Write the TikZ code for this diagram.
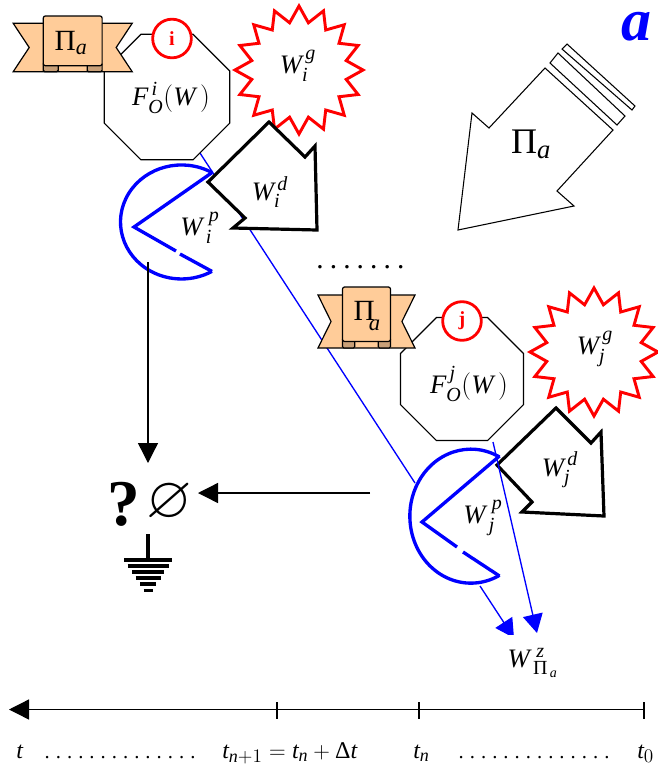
\documentclass[tikz,border=0pt]{standalone}
\usepackage{amsmath,amssymb}
\usepackage{fontspec}
\setmainfont{Liberation Serif}
\usetikzlibrary{positioning, shapes.geometric, arrows.meta}
\definecolor{peach}{HTML}{FFCC99}
\definecolor{peachdark}{HTML}{C9A078}
\DeclareMathSizes{18}{18}{13.5}{10}
\DeclareMathSizes{20}{20}{15}{10.5}
\DeclareMathSizes{22}{22}{16.5}{12}
\DeclareMathSizes{27}{27}{20}{14}
\newcommand\wlab[2]{$\textit{W}_{\textit{#1}}^{\,\textit{#2}}$}
\newcommand\pwlab[2]{$\textit{W}_{\,\textit{#1}}^{\,\,\textit{#2}}$}
\newcommand\folab[1]{$\textit{F}_{\textit{O}}^{\,\textit{#1}}(\textit{W}\,)$}
\newcommand\pilab{$\text{Π}_{\textit{a}}$}
\newcommand\dotrow[2]{\foreach \k in {1,...,#1}{\makebox[#2]{.}}}
\begin{document}
\begin{tikzpicture}[
      x=0.75pt, y=-0.75pt,
      octa/.style={regular polygon, regular polygon sides=8,
        draw, fill=white, line width=0.9pt, minimum size=102pt, inner sep=0pt, outer sep=0pt},
      burst/.style={star, star points=16, star point ratio=1.33, draw=red, fill=white,
        line width=2.2pt, minimum size=96pt, inner sep=0pt, outer sep=0pt},
      badge/.style={circle, draw=red, fill=white, line width=2.1pt, minimum size=29pt,
        inner sep=0pt, text=red, font=\fontsize{15}{18}\selectfont\bfseries},
      dfront/.style={draw, fill=white, line width=2.4pt, line join=miter},
      pacm/.style={draw=blue, line width=2.5pt},
      lab/.style={inner sep=0pt, font=\fontsize{20}{24}\selectfont},
      timelab/.style={inner sep=0pt, anchor=base west, font=\fontsize{18}{21}\selectfont},
      thinblue/.style={draw=blue, line width=1pt},
      bluearrow/.style={thinblue, -{Triangle[length=14pt, width=15pt]}},
      blackarrow/.style={line width=1pt, -{Triangle[length=15pt, width=15pt]}},
      banner/.pic={
        \draw[fill=peach, line width=0.9pt, line join=miter]
          (-59.5,-24.2) -- (-43.5,0) -- (-59.5,24.2) -- (59.5,24.2) -- (43.5,0) -- (59.5,-24.2) -- cycle;
        \draw[fill=peachdark, line width=0.9pt, rounded corners=1pt] (-29.4,16) -- (-29.4,24.2) -- (-14.5,24.2) -- (-14.5,16);
        \draw[fill=peachdark, line width=0.9pt, rounded corners=1pt] (14.5,16) -- (14.5,24.2) -- (29.4,24.2) -- (29.4,16);
        \draw[fill=peach, line width=0.9pt, rounded corners=1.5pt] (-29.4,-31.5) rectangle (29.4,18.2);
      }
    ]
    \useasboundingbox (0,0) rectangle (658,769);

    \coordinate (lineA) at (200,153);
    \coordinate (lineB) at (415,483);
    \draw[thinblue] (lineA) -- (lineB);

    \node[octa] (octi) at (167,97) {};
    \node[octa, minimum size=100pt] (octj) at (462,379) {};
    \node[lab] (fi) at (171,98) {\folab{i}};
    \node[lab] (fj) at (469,384) {\folab{j}};

    \pic at (72.7,47.5) {banner};
    \pic[xscale=0.815, yscale=1.095] at (366.5,321.5) {banner};
    \node[lab, font=\fontsize{22}{26}\selectfont] (pii) at (71,43) {\pilab};
    \node[lab, font=\fontsize{22}{26}\selectfont] (pij) at (367,316) {Π\kern-4.5pt\raisebox{-7pt}{\fontsize{17}{20}\selectfont\textit{a}}};

    \node[badge] (bi) at (172,38.5) {i};
    \node[badge] (bj) at (462,321) {j};

    \node[burst] (si) at (299,70) {};
    \node[burst] (sj) at (594,352) {};
    \node[lab] at (298,66) {\wlab{i}{g}};
    \node[lab] at (595,349) {\wlab{j}{g}};

    \draw[dfront] (208,182) -- (269,122) -- (305,157) -- (315,146) -- (317,230) -- (233,228) -- (245,218) -- cycle;
    \draw[dfront] (497,465) -- (556,408) -- (591,443) -- (601,432) -- (604,516) -- (522,512) -- (532,502) -- cycle;
    \node[lab] at (270,192) {\wlab{i}{d}};
    \node[lab] at (560,470) {\wlab{j}{d}};

    \draw[pacm] (212,172.6) arc[start angle=60, end angle=300, x radius=45.75pt, y radius=42.75pt];
    \draw[pacm] (212,172.6) -- (134,227) -- (176,251);
    \draw[pacm] (180,254) -- (212,271.4);
    \draw[pacm] (499.5,457) arc[start angle=62, end angle=298, x radius=45.75pt, y radius=50.25pt];
    \draw[pacm] (499.5,456) -- (422,522) -- (457,547);
    \draw[pacm] (463,552) -- (499.5,576);
    \node[lab] at (200,228) {\pwlab{i}{p}};
    \node[lab] at (483,518) {\pwlab{j}{p}};

    \coordinate (arrowA) at (148,262);
    \coordinate (arrowB) at (148,463);
    \coordinate (arrowC) at (370,493);
    \coordinate (arrowD) at (198,493);
    \draw[blackarrow] (arrowA) -- (arrowB);
    \draw[blackarrow] (arrowC) -- (arrowD);

    \node[inner sep=0pt, font=\fontsize{49}{52}\selectfont\bfseries] (quest) at (124,504) {?};
    \node[inner sep=0pt, font=\fontsize{44}{48}\selectfont] (empty) at (169.5,503) {$\varnothing$};

    \coordinate (gndtop) at (148,534);
    \coordinate (gndbar) at (148,560);
    \draw[line width=2.6pt] (gndtop) -- (gndbar);
    \foreach \yy/\hw in {560/24, 566/20.5, 572/16, 578/12.5, 584/8, 590.5/4.5}
      \draw[line width=2.6pt] (148-\hw,\yy) -- (148+\hw,\yy);

    \coordinate (zA) at (493,442);
    \coordinate (zB) at (537,633);
    \coordinate (zC) at (480,586);
    \coordinate (zD) at (514,638);
    \draw[bluearrow] (zA) -- (zB);
    \draw[bluearrow] (zC) -- (zD);
    \node[lab, fill=white, inner xsep=10pt, inner ysep=10pt] (wz) at (533,663) {$\textit{W}_{\,\text{Π}_{\,\textit{a}}}^{\,\,\textit{z}}$};

    \draw[line width=0.8pt, line join=miter] (545,68) -- (489,128) -- (472,113) -- (458,230) -- (574,206) -- (557,191) -- (613,130) -- cycle;
    \draw[line width=0.8pt] (550,63) -- (558,53) -- (625,116) -- (617,125) -- cycle;
    \draw[line width=0.8pt] (562,49) -- (567,44) -- (635,106) -- (632,110) -- cycle;
    \node[lab, font=\fontsize{27}{31}\selectfont] (pibig) at (531,144) {\pilab};

    \node[inner sep=0pt, text=blue, font=\fontsize{45}{48}\selectfont\bfseries\itshape] (tag) at (636,27) {a};

    \node[lab, anchor=base west, font=\fontsize{22}{26}\selectfont] (dotsmid) at (313,268) {\dotrow{7}{10.1pt}};

    \coordinate (tzero) at (644,709.5);
    \coordinate (tn) at (419,709.5);
    \coordinate (tnext) at (277,709.5);
    \coordinate (tend) at (9,709.5);
    \draw[line width=1pt, -{Triangle[length=15pt, width=15pt]}] (tzero) -- (tend);
    \foreach \tk in {tzero, tn, tnext}
      \draw[line width=0.9pt] (\tk) ++(0,-7.5) -- ++(0,17);

    \node[timelab] (lt) at (16,758) {\textit{t}};
    \node[timelab, font=\fontsize{15.5}{18}\selectfont] (dleft) at (41.4,758) {\dotrow{14}{8.4pt}};
    \node[timelab] (lnext) at (222,758) {$\textit{t}_{\textit{n}+1}=\textit{t}_{\textit{n}}+\text{Δ}\textit{t}$};
    \node[timelab] (ln) at (413,758) {$\textit{t}_{\textit{n}}$};
    \node[timelab, font=\fontsize{15.5}{18}\selectfont] (dright) at (455.4,758) {\dotrow{14}{8.4pt}};
    \node[timelab] (lzero) at (637,758) {$\textit{t}_{0}$};
\end{tikzpicture}
\end{document}
